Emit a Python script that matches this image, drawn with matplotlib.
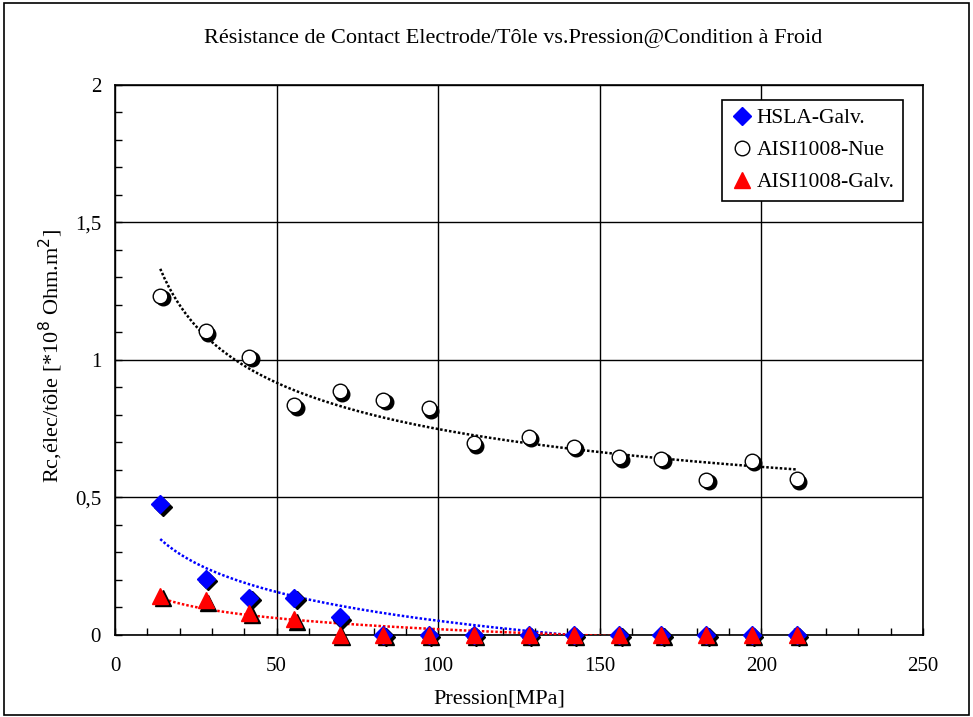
import numpy as np
import matplotlib
matplotlib.use("Agg")
import matplotlib.pyplot as plt
from matplotlib.patches import Rectangle
from matplotlib.ticker import MultipleLocator, FuncFormatter
import matplotlib.transforms as mtransforms

plt.rcParams['font.family'] = ['Liberation Serif', 'DejaVu Serif']

# pression [MPa]
pression = [14, 28, 41.5, 55.5, 69.5, 83, 97, 111, 128, 142, 156, 169, 183, 197, 211]
# Rc [*1e-8 Ohm.m2]
hsla_galv = [0.475, 0.204, 0.135, 0.135, 0.065, 0, 0, 0, 0, 0, 0, 0, 0, 0, 0]
aisi_nue = [1.233, 1.105, 1.011, 0.836, 0.887, 0.855, 0.825, 0.698, 0.72, 0.684,
            0.647, 0.64, 0.564, 0.633, 0.567]
aisi_galv = [0.142, 0.127, 0.08, 0.058, 0, 0, 0, 0, 0, 0, 0, 0, 0, 0, 0]

# nom, valeurs, marqueur, remplissage, bord, taille, type de tendance
series = [
    ("HSLA-Galv.", hsla_galv, "D", "blue", "blue", 9.5, "log"),
    ("AISI1008-Nue", aisi_nue, "o", "white", "black", 10.5, "power"),
    ("AISI1008-Galv.", aisi_galv, "^", "red", "red", 11.5, "log"),
]

fig = plt.figure(figsize=(9.73, 7.17), dpi=100)
fig.patches.append(Rectangle((0.004, 0.003), 0.992, 0.993, transform=fig.transFigure,
                             fill=False, edgecolor="black", linewidth=1.2))
ax = fig.add_axes([0.1182, 0.1144, 0.8304, 0.7671])

x = np.array(pression, dtype=float)
shadow = mtransforms.offset_copy(ax.transData, fig=fig, x=2.5, y=-2.5, units="dots")

# courbes de tendance (moindres carrés)
xs = np.linspace(x.min(), x.max(), 300)
for name, vals, m, fc, ec, ms, kind in series:
    v = np.array(vals)
    if kind == "power":
        b, a = np.polyfit(np.log(x), np.log(v), 1)
        ys = np.exp(a) * xs ** b
    else:
        b, a = np.polyfit(np.log(x), v, 1)
        ys = a + b * np.log(xs)
    ax.plot(xs, ys, linestyle=(0, (1, 0.8)), color=ec, linewidth=1.8, zorder=3)

for name, vals, m, fc, ec, ms, kind in series:
    ax.plot(x, vals, linestyle="none", marker=m, markersize=ms, color="black",
            markeredgecolor="black", transform=shadow, zorder=4, clip_on=False)
    ax.plot(x, vals, linestyle="none", marker=m, markersize=ms, markerfacecolor=fc,
            markeredgecolor=ec, markeredgewidth=1.0, zorder=5, clip_on=False,
            label=name)

ax.set_xlim(0, 250)
ax.set_ylim(0, 2)
ax.xaxis.set_major_locator(MultipleLocator(50))
ax.xaxis.set_minor_locator(MultipleLocator(10))
ax.yaxis.set_major_locator(MultipleLocator(0.5))
ax.yaxis.set_minor_locator(MultipleLocator(0.1))
ax.yaxis.set_major_formatter(FuncFormatter(lambda v, p: ("%g" % v).replace(".", ",")))
ax.grid(True, which="major", color="black", linewidth=1.0)
ax.set_axisbelow(True)
ax.tick_params(which="both", direction="in", labelsize=15, length=5, width=1,
               top=False, right=False)
ax.tick_params(axis="x", pad=16)
ax.tick_params(axis="y", pad=10)
for s in ax.spines.values():
    s.set_linewidth(1.2)

fig.text(0.527, 0.947, "Résistance de Contact Electrode/Tôle vs.Pression@Condition à Froid",
         ha="center", va="center", fontsize=16)
fig.text(0.513, 0.025, "Pression[MPa]", ha="center", va="center", fontsize=16)
fig.text(0.052, 0.503, "Rc,élec/tôle [*10$^{8}$ Ohm.m$^{2}$]", ha="center", va="center",
         rotation=90, fontsize=16)

leg = ax.legend(loc="upper right", bbox_to_anchor=(0.975, 0.973), fontsize=15.5,
                frameon=True, fancybox=False, edgecolor="black", framealpha=1,
                handletextpad=0.1, handlelength=1.1, borderpad=0.4, labelspacing=0.55,
                borderaxespad=0)
leg.get_frame().set_linewidth(1.2)

fig.savefig("out.png", dpi=100)
